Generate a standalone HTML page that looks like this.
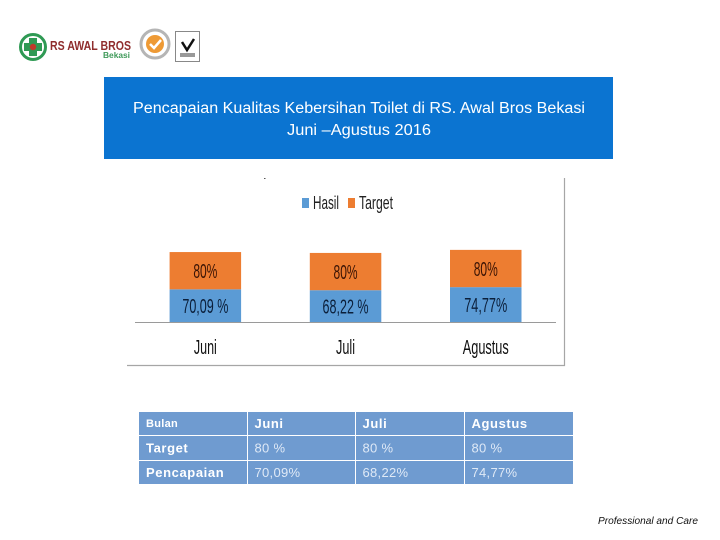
<!DOCTYPE html>
<html lang="id">
<head>
<meta charset="utf-8">
<title>Pencapaian Kualitas Kebersihan Toilet</title>
<style>
html,body{margin:0;padding:0;background:#fff;width:720px;height:540px;overflow:hidden}
svg{display:block;font-family:"Liberation Sans",sans-serif}
</style>
</head>
<body>
<svg id="s" width="720" height="540" viewBox="0 0 720 540" xmlns="http://www.w3.org/2000/svg">
  <g>
    <circle cx="33" cy="47" r="12.500" fill="#fff" stroke="#2f9a54" stroke-width="3"/>
    <path d="M29 38h8v5h5v8h-5v5h-8v-5h-5v-8h5z" fill="#2f9a54"/>
    <circle cx="33" cy="47" r="3.200" fill="#c0392b"/>
    <text x="50" y="50" font-size="12.500" font-weight="bold" fill="#8f2d2d" textLength="81" lengthAdjust="spacingAndGlyphs">RS AWAL BROS</text>
    <text x="103" y="58" font-size="8" font-weight="bold" fill="#3f9a5a" textLength="27" lengthAdjust="spacingAndGlyphs">Bekasi</text>
  </g>
  <g>
    <circle cx="155" cy="44" r="14" fill="none" stroke="#b5b5b5" stroke-width="3"/>
    <circle cx="155" cy="44" r="9" fill="#ee9a35"/>
    <path d="M150 44l4 4 7-8" fill="none" stroke="#fff" stroke-width="2.500"/>
    <rect x="175.500" y="31.500" width="24" height="30" fill="#fff" stroke="#888" stroke-width="1"/>
    <path d="M182 42l5 8 7-11" fill="none" stroke="#111" stroke-width="2.500"/>
    <rect x="180" y="53" width="15" height="4" fill="#999"/>
  </g>

  <rect x="104" y="77" width="509" height="82" fill="#0b74d1"/>
  <text x="133" y="113" font-size="15.500" fill="#fff" textLength="452" lengthAdjust="spacingAndGlyphs">Pencapaian Kualitas Kebersihan Toilet  di RS. Awal Bros Bekasi</text>
  <text x="287" y="135" font-size="15.500" fill="#fff" textLength="144" lengthAdjust="spacingAndGlyphs">Juni –Agustus  2016</text>

  <g id="chart">
    <path d="M127 365.500H564.500V178" fill="none" stroke="#a6a6a6" stroke-width="1.200"/>
    <rect x="264" y="178" width="1.500" height="1" fill="#555"/>
    <rect x="302" y="198" width="7" height="10" fill="#5b9bd5"/>
    <text x="313" y="209" font-size="18" fill="#222" textLength="26" lengthAdjust="spacingAndGlyphs">Hasil</text>
    <rect x="348" y="198" width="7" height="10" fill="#ed7d31"/>
    <text x="359" y="209" font-size="18" fill="#222" textLength="34" lengthAdjust="spacingAndGlyphs">Target</text>
    <line x1="135" y1="322.500" x2="556" y2="322.500" stroke="#9a9a9a" stroke-width="1"/>
  </g>

  <g id="table"></g>

  <text x="598" y="524" font-size="10.500" font-style="italic" fill="#111" textLength="100" lengthAdjust="spacingAndGlyphs">Professional and Care</text>
</svg>
<script>
const categories = ['Juni', 'Juli', 'Agustus'];
const hasilValues = [70.09, 68.22, 74.77];
const targetValues = [80, 80, 80];
const hasilLabels = ['70,09 %', '68,22 %', '74,77%'];
const targetLabels = ['80%', '80%', '80%'];

const tableHeader = ['Bulan', 'Juni', 'Juli', 'Agustus'];
const tableTarget = ['Target', '80 %', '80 %', '80 %'];
const tablePencapaian = ['Pencapaian', '70,09%', '68,22%', '74,77%'];

const NS = 'http://www.w3.org/2000/svg';
const chart = document.getElementById('chart');
const table = document.getElementById('table');

function xBand(i) { return 169.6 + i * 140.2; }
const barWidth = 71.5;
const baseY = 322;
function yLen(v) { return v * 0.466; }

function addText(parent, x, y, str, size, fill, anchor, width) {
  const t = document.createElementNS(NS, 'text');
  t.setAttribute('x', x);
  t.setAttribute('y', y);
  t.setAttribute('font-size', size);
  t.setAttribute('fill', fill);
  t.setAttribute('text-anchor', anchor);
  if (width) {
    t.setAttribute('textLength', width);
    t.setAttribute('lengthAdjust', 'spacingAndGlyphs');
  }
  t.textContent = str;
  parent.appendChild(t);
  return t;
}
function addRect(parent, x, y, w, h, fill) {
  const r = document.createElementNS(NS, 'rect');
  r.setAttribute('x', x);
  r.setAttribute('y', y);
  r.setAttribute('width', w);
  r.setAttribute('height', h);
  r.setAttribute('fill', fill);
  parent.appendChild(r);
  return r;
}

categories.forEach(function (cat, i) {
  const x = xBand(i);
  const cx = x + barWidth / 2;
  const hH = yLen(hasilValues[i]);
  const tH = yLen(targetValues[i]);
  const hTop = baseY - hH;
  const tTop = hTop - tH;

  const hr = addRect(chart, x, hTop, barWidth, hH, '#5b9bd5');
  
  

  const tr = addRect(chart, x, tTop, barWidth, tH, '#ed7d31');
  
  

  const hl = addText(chart, cx, hTop + hH / 2 + 7.5, hasilLabels[i], 20, '#0b1f3a', 'middle', hasilLabels[i].length > 6 ? 46 : 43);
  
  

  const tl = addText(chart, cx, tTop + tH / 2 + 7.5, targetLabels[i], 20, '#3a1405', 'middle', 24);
  
  

  const cl = addText(chart, cx, 354, cat, 20, '#111', 'middle', cat.length > 4 ? 46 : (cat === 'Juni' ? 23 : 19));
  
  
});

const colX = [139, 248, 356, 465];
const colW = [108, 107, 108, 108];
const rowY = [412, 436, 461];
const rowH = [23, 24, 23];
[tableHeader, tableTarget, tablePencapaian].forEach(function (row, r) {
  row.forEach(function (cell, c) {
    const bg = addRect(table, colX[c], rowY[r], colW[c], rowH[r], '#6f9bd0');
    
    
    const bold = r === 0 || c === 0;
    const small = r === 0 && c === 0;
    const t = addText(table, colX[c] + (c === 0 ? 7 : 6.5), rowY[r] + rowH[r] / 2 + (small ? 3.5 : 4.5), cell, small ? 11 : 13, bold ? '#ffffff' : '#dfe9f6', 'start');
    if (bold) t.setAttribute('font-weight', 'bold');
    t.setAttribute('letter-spacing', bold && !small ? '0.6' : '0.3');
    
    
  });
});
</script>
</body>
</html>
